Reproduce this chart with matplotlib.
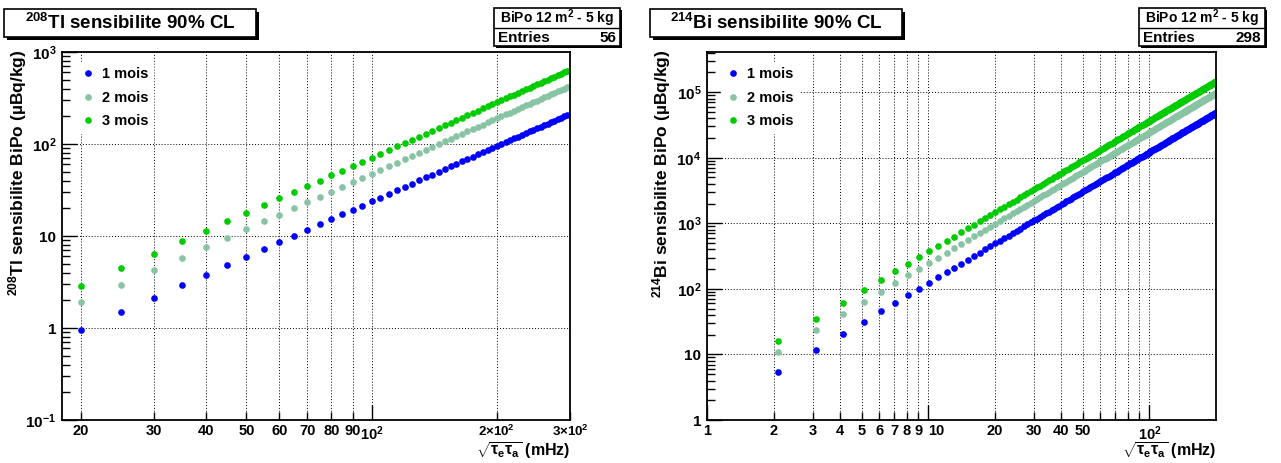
import numpy as np
import matplotlib.pyplot as plt
from matplotlib.patches import Rectangle

plt.rcParams['font.family'] = ['Liberation Sans', 'DejaVu Sans']
plt.rcParams['font.weight'] = 'bold'
plt.rcParams['mathtext.fontset'] = 'custom'
plt.rcParams['mathtext.rm'] = 'Liberation Sans:bold'
plt.rcParams['mathtext.bf'] = 'Liberation Sans:bold'
plt.rcParams['mathtext.it'] = 'Liberation Sans:bold'
plt.rcParams['mathtext.sf'] = 'Liberation Sans:bold'

# ---- 208Tl panel : sqrt(tau_e tau_a) from 20 to 295 mHz, step 5 ----
tl_x = list(range(20, 300, 5))
tl_1mois = [0.95, 1.48, 2.14, 2.91, 3.80, 4.81, 5.94, 7.18, 8.55, 10.03,
            11.64, 13.36, 15.2, 17.16, 19.24, 21.43, 23.75, 26.18, 28.74, 31.41,
            34.2, 37.11, 40.14, 43.28, 46.55, 49.93, 53.44, 57.06, 60.8, 64.66,
            68.64, 72.73, 76.95, 81.28, 85.74, 90.31, 95.0, 99.81, 104.7, 109.8,
            114.9, 120.2, 125.6, 131.2, 136.8, 142.6, 148.4, 154.4, 160.6, 166.8,
            173.1, 179.6, 186.2, 192.9, 199.7, 206.7]
tl_2mois = [1.90, 2.97, 4.28, 5.82, 7.60, 9.62, 11.9, 14.4, 17.1, 20.1,
            23.3, 26.7, 30.4, 34.3, 38.5, 42.9, 47.5, 52.4, 57.5, 62.8,
            68.4, 74.2, 80.3, 86.6, 93.1, 99.9, 106.9, 114.1, 121.6, 129.3,
            137.3, 145.5, 153.9, 162.6, 171.5, 180.6, 190.0, 199.6, 209.5, 219.6,
            229.9, 240.4, 251.2, 262.3, 273.6, 285.1, 296.9, 308.9, 321.1, 333.6,
            346.3, 359.3, 372.4, 385.9, 399.5, 413.4]
tl_3mois = [2.85, 4.45, 6.41, 8.73, 11.4, 14.4, 17.8, 21.6, 25.7, 30.1,
            34.9, 40.1, 45.6, 51.5, 57.7, 64.3, 71.3, 78.6, 86.2, 94.2,
            102.6, 111.3, 120.4, 129.8, 139.7, 149.8, 160.3, 171.2, 182.4, 194.0,
            205.9, 218.2, 230.9, 243.8, 257.2, 270.9, 285.0, 299.4, 314.2, 329.3,
            344.8, 360.7, 376.9, 393.5, 410.4, 427.6, 445.3, 463.3, 481.7, 500.4,
            519.4, 538.9, 558.7, 578.8, 599.2, 620.0]

# ---- 214Bi panel : bins 2..200 (centres at n+0.1) ----
bi_x = [n + 0.1 for n in range(2, 201)]
bi_1mois = [5.38, 11.72, 20.51, 31.73, 45.40, 61.50, 80.04, 101.0, 124.5, 150.3,
            178.6, 209.4, 242.5, 278.2, 316.2, 356.7, 399.7, 445.1, 492.9, 543.2,
            595.9, 651.0, 708.6, 768.6, 831.1, 896.0, 963.3, 1033, 1105, 1180,
            1257, 1337, 1419, 1503, 1590, 1679, 1771, 1865, 1962, 2061,
            2162, 2266, 2373, 2481, 2593, 2706, 2823, 2941, 3062, 3186,
            3312, 3440, 3571, 3704, 3840, 3978, 4118, 4261, 4407, 4555,
            4705, 4858, 5013, 5170, 5330, 5493, 5658, 5825, 5995, 6167,
            6342, 6519, 6699, 6881, 7065, 7252, 7442, 7633, 7828, 8024,
            8223, 8425, 8629, 8835, 9044, 9255, 9469, 9685, 9904, 10125,
            10349, 10574, 10803, 11034, 11267, 11503, 11741, 11981, 12224, 12470,
            12718, 12968, 13221, 13476, 13734, 13994, 14256, 14521, 14789, 15059,
            15331, 15606, 15883, 16163, 16445, 16729, 17016, 17305, 17597, 17892,
            18188, 18487, 18789, 19093, 19399, 19708, 20020, 20334, 20650, 20968,
            21290, 21613, 21939, 22267, 22598, 22932, 23267, 23606, 23946, 24289,
            24635, 24983, 25333, 25686, 26041, 26399, 26759, 27122, 27487, 27854,
            28224, 28596, 28971, 29348, 29728, 30110, 30495, 30882, 31271, 31663,
            32057, 32454, 32853, 33255, 33659, 34065, 34474, 34886, 35300, 35716,
            36134, 36556, 36979, 37405, 37834, 38265, 38698, 39134, 39572, 40013,
            40456, 40901, 41349, 41800, 42253, 42708, 43166, 43626, 44088, 44553,
            45021, 45491, 45963, 46438, 46915, 47395, 47877, 48362, 48849]
bi_2mois = [10.76, 23.44, 41.02, 63.46, 90.80, 123.0, 160.1, 202.0, 249.0, 300.6,
            357.2, 418.8, 485.0, 556.4, 632.4, 713.4, 799.4, 890.2, 985.8, 1086,
            1192, 1302, 1417, 1537, 1662, 1792, 1927, 2066, 2210, 2360,
            2514, 2674, 2838, 3006, 3180, 3358, 3542, 3730, 3924, 4122,
            4324, 4532, 4746, 4962, 5186, 5412, 5646, 5882, 6124, 6372,
            6624, 6880, 7142, 7408, 7680, 7956, 8236, 8522, 8814, 9110,
            9410, 9716, 10026, 10340, 10660, 10986, 11316, 11650, 11990, 12334,
            12684, 13038, 13398, 13762, 14130, 14504, 14884, 15266, 15656, 16048,
            16446, 16850, 17258, 17670, 18088, 18510, 18938, 19370, 19808, 20250,
            20698, 21148, 21606, 22068, 22534, 23006, 23482, 23962, 24448, 24940,
            25436, 25936, 26442, 26952, 27468, 27988, 28512, 29042, 29578, 30118,
            30662, 31212, 31766, 32326, 32890, 33458, 34032, 34610, 35194, 35784,
            36376, 36974, 37578, 38186, 38798, 39416, 40040, 40668, 41300, 41936,
            42580, 43226, 43878, 44534, 45196, 45864, 46534, 47212, 47892, 48578,
            49270, 49966, 50666, 51372, 52082, 52798, 53518, 54244, 54974, 55708,
            56448, 57192, 57942, 58696, 59456, 60220, 60990, 61764, 62542, 63326,
            64114, 64908, 65706, 66510, 67318, 68130, 68948, 69772, 70600, 71432,
            72268, 73112, 73958, 74810, 75668, 76530, 77396, 78268, 79144, 80026,
            80912, 81802, 82698, 83600, 84506, 85416, 86332, 87252, 88176, 89106,
            90042, 90982, 91926, 92876, 93830, 94790, 95754, 96724, 97698]
bi_3mois = [16.14, 35.16, 61.53, 95.19, 136.2, 184.5, 240.1, 303.0, 373.5, 450.9,
            535.8, 628.2, 727.5, 834.6, 948.6, 1070, 1199, 1335, 1479, 1630,
            1788, 1953, 2126, 2306, 2493, 2688, 2890, 3099, 3315, 3540,
            3771, 4011, 4257, 4509, 4770, 5037, 5313, 5595, 5886, 6183,
            6486, 6798, 7119, 7443, 7779, 8118, 8469, 8823, 9186, 9558,
            9936, 10320, 10713, 11112, 11520, 11934, 12354, 12783, 13221, 13665,
            14115, 14574, 15039, 15510, 15990, 16479, 16974, 17475, 17985, 18501,
            19026, 19557, 20097, 20643, 21195, 21756, 22326, 22899, 23484, 24072,
            24669, 25275, 25887, 26505, 27132, 27765, 28407, 29055, 29712, 30375,
            31047, 31722, 32409, 33102, 33801, 34509, 35223, 35943, 36672, 37410,
            38154, 38904, 39663, 40428, 41202, 41982, 42768, 43563, 44367, 45177,
            45993, 46818, 47649, 48489, 49335, 50187, 51048, 51915, 52791, 53676,
            54564, 55461, 56367, 57279, 58197, 59124, 60060, 61002, 61950, 62904,
            63870, 64839, 65817, 66801, 67794, 68796, 69801, 70818, 71838, 72867,
            73905, 74949, 75999, 77058, 78123, 79197, 80277, 81366, 82461, 83562,
            84672, 85788, 86913, 88044, 89184, 90330, 91485, 92646, 93813, 94989,
            96171, 97362, 98559, 99765, 100977, 102195, 103422, 104658, 105900, 107148,
            108402, 109668, 110937, 112215, 113502, 114795, 116094, 117402, 118716, 120039,
            121368, 122703, 124047, 125400, 126759, 128124, 129498, 130878, 132264, 133659,
            135063, 136473, 137889, 139314, 140745, 142185, 143631, 145086, 146547]

labels = ['1 mois', '2 mois', '3 mois']
colors = ['#0000ff', '#88c4a4', '#00cc00']

W, H = 1281, 463
fig = plt.figure(figsize=(W / 100, H / 100), dpi=100)


def px_axes(x0, y0, x1, y1):
    # pixel box (from top-left) -> axes
    return fig.add_axes([x0 / W, 1 - y1 / H, (x1 - x0) / W, (y1 - y0) / H])


def pave(x0, y0, x1, y1, sh=3):
    fig.add_artist(Rectangle(((x0 + sh) / W, 1 - (y1 + sh) / H), (x1 - x0) / W,
                             (y1 - y0) / H, transform=fig.transFigure,
                             facecolor='black', edgecolor='black', lw=0))
    fig.add_artist(Rectangle((x0 / W, 1 - y1 / H), (x1 - x0) / W, (y1 - y0) / H,
                             transform=fig.transFigure, facecolor='white',
                             edgecolor='black', lw=1.2))


def ftext(x, y, s, **kw):
    fig.text(x / W, 1 - y / H, s, **kw)


def style(ax):
    for sp in ax.spines.values():
        sp.set_linewidth(1.3)
    ax.tick_params(which='both', direction='in', top=False, right=False,
                   labelsize=11, width=1)
    ax.tick_params(which='major', length=11)
    ax.tick_params(which='minor', length=6)
    ax.tick_params(axis='x', which='both', pad=3, labelsize=10.5)
    ax.tick_params(axis='y', which='both', pad=4)
    ax.set_axisbelow(True)
    ax.grid(True, which='major', axis='y', color='black', lw=0.7,
            linestyle=(0, (1, 2)))
    ax.grid(True, which='both', axis='x', color='black', lw=0.7,
            linestyle=(0, (1, 2)))


def draw(ax, x, series):
    for ys, lab, c in zip(series, labels, colors):
        ax.plot(x, ys, 'o', ls='none', ms=4.8, mew=0, color=c, label=lab)
    ax.legend(loc='upper left', bbox_to_anchor=(0.028, 0.973), frameon=True,
              fancybox=False, edgecolor='white', facecolor='white', framealpha=1,
              prop={'weight': 'bold', 'size': 10.5}, handlelength=0.9,
              handletextpad=0.5, labelspacing=0.66, borderpad=0.35,
              borderaxespad=0, markerscale=1.0)


# ---------------- left panel ----------------
ax1 = px_axes(62, 52, 570, 420)
ax1.set_xscale('log')
ax1.set_yscale('log')
draw(ax1, tl_x, [tl_1mois, tl_2mois, tl_3mois])
ax1.set_xlim(18, 300)
ax1.set_ylim(0.1, 1000)
ax1.set_xticks([100], labels=[r'10$^{2}$'])
ax1.set_xticks([20, 30, 40, 50, 60, 70, 80, 90, 200, 300],
               labels=['20', '30', '40', '50', '60', '70', '80', '90',
                       r'2×10$^{2}$', r'3×10$^{2}$'], minor=True)
ax1.set_yticks([0.1, 1, 10, 100, 1000],
               labels=[r'10$^{-1}$', '1', '10', r'10$^{2}$', r'10$^{3}$'])
ax1.yaxis.set_minor_locator(plt.matplotlib.ticker.LogLocator(subs=np.arange(2, 10)))
ax1.yaxis.set_minor_formatter(plt.NullFormatter())
style(ax1)
for t in ax1.xaxis.get_ticklabels(minor=True)[-2:]:
    t.set_fontsize(9.5)

# ---------------- right panel ----------------
ax2 = px_axes(707, 52, 1216, 420)
ax2.set_xscale('log')
ax2.set_yscale('log')
draw(ax2, bi_x, [bi_1mois, bi_2mois, bi_3mois])
ax2.set_xlim(1, 200)
ax2.set_ylim(1, 4.1e5)
ax2.set_xticks([1, 10, 100], labels=['1', '10', r'10$^{2}$'])
ax2.set_xticks([2, 3, 4, 5, 6, 7, 8, 9, 20, 30, 40, 50, 60, 70, 80, 90],
               labels=['2', '3', '4', '5', '6', '7', '8', '9', '20', '30', '40',
                       '50', '', '', '', ''], minor=True)
ax2.set_yticks([1, 10, 100, 1e3, 1e4, 1e5],
               labels=['1', '10', r'10$^{2}$', r'10$^{3}$', r'10$^{4}$', r'10$^{5}$'])
ax2.yaxis.set_minor_locator(plt.matplotlib.ticker.LogLocator(subs=np.arange(2, 10)))
ax2.yaxis.set_minor_formatter(plt.NullFormatter())
style(ax2)
for t in ax2.xaxis.get_ticklabels():
    if t.get_text() == '10':
        t.set_horizontalalignment('left')

# axis titles
xtitle = r'$\sqrt{\tau_{e}\tau_{a}}$ (mHz)'
ftext(570, 451, xtitle, ha='right', va='center', fontsize=11.5)
ftext(1216, 451, xtitle, ha='right', va='center', fontsize=11.5)
ftext(18, 50, r'$^{208}$Tl sensibilite BiPo (µBq/kg)', rotation=90,
      ha='center', va='top', fontsize=12.5)
ftext(662, 50, r'$^{214}$Bi sensibilite BiPo (µBq/kg)', rotation=90,
      ha='center', va='top', fontsize=12.5)

# title paves
pave(4, 9, 256, 37)
ftext(130, 23, r'$^{208}$Tl sensibilite 90% CL', ha='center', va='center',
      fontsize=13.5)
pave(650, 9, 902, 37)
ftext(776, 23, r'$^{214}$Bi sensibilite 90% CL', ha='center', va='center',
      fontsize=13.5)

# stats paves
for x0, n in [(494, '56'), (1139, '298')]:
    pave(x0, 8, x0 + 126, 46, sh=2)
    fig.add_artist(plt.Line2D([x0 / W, (x0 + 126) / W], [1 - 28 / H, 1 - 28 / H],
                              transform=fig.transFigure, color='black', lw=1))
    ftext(x0 + 63, 18.5, r'BiPo 12 m$^{2}$ - 5 kg', ha='center', va='center',
          fontsize=10)
    ftext(x0 + 4, 37.5, 'Entries', ha='left', va='center', fontsize=11)
    ftext(x0 + 122, 37.5, n, ha='right', va='center', fontsize=11)

fig.savefig('out.png', dpi=100)
